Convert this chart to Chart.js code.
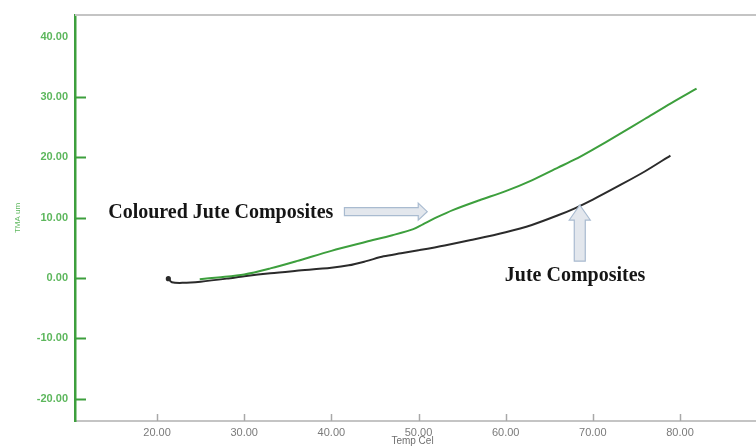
<!DOCTYPE html>
<html>
<head>
<meta charset="utf-8">
<script src="https://cdn.jsdelivr.net/npm/chart.js@4/dist/chart.umd.min.js"></script>
<style>
  html, body { margin: 0; padding: 0; background: #ffffff; }
  #wrap { width: 756px; height: 447px; }
</style>
</head>
<body>
<div id="wrap"><canvas id="c" width="756" height="447"></canvas></div>
<script>
// ---- Data ----
const colouredTemp = [24.9, 27, 30, 33, 36, 40, 44, 47, 49.4, 50.5, 52, 54, 57, 60, 63, 66, 68, 70, 73, 76, 79, 81.9];
const colouredTMA  = [-0.2, 0.1, 0.6, 1.6, 2.8, 4.5, 6.0, 7.1, 8.1, 8.9, 10.0, 11.3, 12.9, 14.4, 16.2, 18.3, 19.7, 21.3, 23.8, 26.4, 29.0, 31.4];

const juteTemp = [21.3, 21.7, 23, 25, 28, 30, 33, 36, 40, 42, 44, 46, 48, 50, 53, 56, 60, 63, 66, 68, 70, 73, 76, 78.9];
const juteTMA  = [-0.1, -0.7, -0.8, -0.6, -0.1, 0.3, 0.8, 1.2, 1.7, 2.1, 2.8, 3.6, 4.1, 4.6, 5.4, 6.3, 7.6, 8.8, 10.4, 11.6, 13.0, 15.3, 17.7, 20.3];

const xTickValues = [20, 30, 40, 50, 60, 70, 80];
const yTickValues = [-20, -10, 0, 10, 20, 30, 40];
const seriesNames = ['Coloured Jute Composites', 'Jute Composites'];
const xTitle = 'Temp Cel';
const yTitle = 'TMA um';

// ---- Styling ----
const GREEN = '#3d9f3d';
const GREEN_TEXT = '#5db75d';
const GREY_AXIS = '#c4c4c4';
const GREY_TEXT = '#7a7a7a';

const toPts = (xs, ys) => xs.map((x, i) => ({ x: x, y: ys[i] }));

const innerTicks = {
  id: 'innerTicks',
  afterDraw(chart) {
    const { ctx, chartArea } = chart;
    const xs = chart.scales.x, ys = chart.scales.y;
    ctx.save();
    ctx.strokeStyle = GREY_AXIS;
    ctx.lineWidth = 2;
    // top frame line and extension of the bottom axis to the picture edge
    ctx.beginPath();
    ctx.moveTo(chartArea.left, chartArea.top);
    ctx.lineTo(chart.width, chartArea.top);
    ctx.moveTo(chartArea.right - 1, chartArea.bottom);
    ctx.lineTo(chart.width, chartArea.bottom);
    ctx.stroke();
    ctx.strokeStyle = GREEN;
    ctx.lineWidth = 2;
    yTickValues.forEach(v => {
      if (v >= 40) return;
      const py = Math.round(ys.getPixelForValue(v)) + 0.5;
      ctx.beginPath();
      ctx.moveTo(chartArea.left, py);
      ctx.lineTo(chartArea.left + 11, py);
      ctx.stroke();
    });
    ctx.strokeStyle = '#a8a8a8';
    ctx.lineWidth = 1.5;
    xTickValues.forEach(v => {
      const px = Math.round(xs.getPixelForValue(v)) + 0.5;
      ctx.beginPath();
      ctx.moveTo(px, chartArea.bottom);
      ctx.lineTo(px, chartArea.bottom - 7);
      ctx.stroke();
    });
    ctx.restore();
  }
};

function blockArrowH(ctx, x0, x1, yc, shaftH, headW, headH) {
  ctx.beginPath();
  ctx.moveTo(x0, yc - shaftH / 2);
  ctx.lineTo(x1 - headW, yc - shaftH / 2);
  ctx.lineTo(x1 - headW, yc - headH / 2);
  ctx.lineTo(x1, yc);
  ctx.lineTo(x1 - headW, yc + headH / 2);
  ctx.lineTo(x1 - headW, yc + shaftH / 2);
  ctx.lineTo(x0, yc + shaftH / 2);
  ctx.closePath();
  ctx.fill();
  ctx.stroke();
}
function blockArrowUp(ctx, xc, yTip, yBottom, shaftW, headH, headW) {
  ctx.beginPath();
  ctx.moveTo(xc - shaftW / 2, yBottom);
  ctx.lineTo(xc - shaftW / 2, yTip + headH);
  ctx.lineTo(xc - headW / 2, yTip + headH);
  ctx.lineTo(xc, yTip);
  ctx.lineTo(xc + headW / 2, yTip + headH);
  ctx.lineTo(xc + shaftW / 2, yTip + headH);
  ctx.lineTo(xc + shaftW / 2, yBottom);
  ctx.closePath();
  ctx.fill();
  ctx.stroke();
}

const annotations = {
  id: 'annotations',
  afterDraw(chart) {
    const { ctx } = chart;
    const xs = chart.scales.x, ys = chart.scales.y;
    ctx.save();
    ctx.fillStyle = '#e3e7ed';
    ctx.strokeStyle = '#a9bbd0';
    ctx.lineWidth = 1.2;
    blockArrowH(ctx, xs.getPixelForValue(41.5), xs.getPixelForValue(51.0), ys.getPixelForValue(11.0), 8, 9, 17);
    blockArrowUp(ctx, xs.getPixelForValue(68.5), ys.getPixelForValue(12.1), ys.getPixelForValue(2.8), 11, 15, 21);
    ctx.fillStyle = '#151515';
    ctx.font = 'bold 20px "Liberation Serif", "Times New Roman", serif';
    ctx.textAlign = 'left';
    ctx.textBaseline = 'alphabetic';
    ctx.fillText(seriesNames[0], xs.getPixelForValue(14.4), ys.getPixelForValue(9.95));
    ctx.fillText(seriesNames[1], xs.getPixelForValue(59.9), ys.getPixelForValue(-0.5));
    ctx.restore();
  }
};

new Chart(document.getElementById('c'), {
  type: 'line',
  data: {
    datasets: [
      {
        label: seriesNames[0],
        data: toPts(colouredTemp, colouredTMA),
        borderColor: GREEN,
        borderWidth: 2,
        pointRadius: 0,
        tension: 0.3,
        fill: false
      },
      {
        label: seriesNames[1],
        data: toPts(juteTemp, juteTMA),
        borderColor: '#2b2b2b',
        backgroundColor: '#2b2b2b',
        borderWidth: 2,
        pointRadius: (c) => c.dataIndex === 0 ? 1.6 : 0,
        tension: 0.3,
        fill: false
      }
    ]
  },
  options: {
    responsive: false,
    animation: false,
    devicePixelRatio: 1,
    layout: { padding: { top: 15, right: 0, left: 0, bottom: 0 } },
    plugins: { legend: { display: false }, tooltip: { enabled: false } },
    scales: {
      x: {
        type: 'linear',
        min: 10.59,
        max: 88.03,
        afterBuildTicks: (s) => { s.ticks = xTickValues.map(v => ({ value: v })); },
        afterFit: (s) => { s.height = 26; s.paddingLeft = 0; s.paddingRight = 0; },
        grid: { display: false, drawTicks: false },
        border: { display: true, color: GREY_AXIS, width: 2 },
        ticks: {
          callback: (v) => Number(v).toFixed(2),
          color: GREY_TEXT,
          font: { family: '"Liberation Sans", Arial, sans-serif', size: 11 },
          padding: 5,
          maxRotation: 0,
          autoSkip: false
        },
        title: {
          display: true,
          text: xTitle,
          color: '#6f6f6f',
          font: { family: '"Liberation Sans", Arial, sans-serif', size: 10 },
          padding: { top: 0, bottom: 0 }
        }
      },
      y: {
        type: 'linear',
        min: -23.7,
        max: 43.6,
        afterBuildTicks: (s) => { s.ticks = yTickValues.map(v => ({ value: v })); },
        afterFit: (s) => { s.width = 75; s.paddingTop = 0; s.paddingBottom = 0; },
        grid: { display: false, drawTicks: false },
        border: { display: true, color: GREEN, width: 2.5 },
        ticks: {
          callback: (v) => Number(v).toFixed(2),
          color: GREEN_TEXT,
          font: { family: '"Liberation Sans", Arial, sans-serif', size: 11, weight: 'bold' },
          padding: 7,
          autoSkip: false
        },
        title: {
          display: true,
          text: yTitle,
          color: GREEN_TEXT,
          font: { family: '"Liberation Sans", Arial, sans-serif', size: 8 },
          padding: { top: 13, bottom: 0 }
        }
      }
    }
  },
  plugins: [innerTicks, annotations]
});
</script>
</body>
</html>
